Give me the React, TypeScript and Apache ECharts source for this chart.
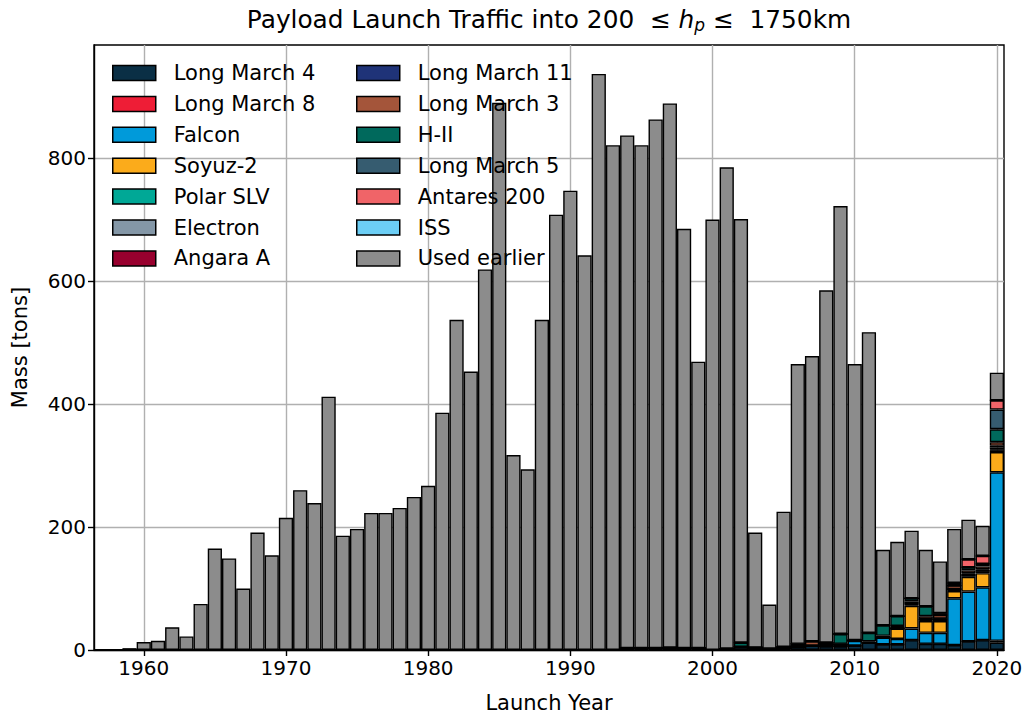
import React, { useEffect, useRef } from "react";
import * as echarts from "echarts";

const firstYear = 1957;
const lastYear = 2020;
const years: string[] = [];
for (let y = firstYear; y <= lastYear; y++) years.push(String(y));

// total stacked mass per year 1957..2020 (tons)
const totalMass = [
  0.2, 1, 3,
  13, 15, 37, 22, 75, 165, 149, 100, 191, 154,
  215, 260, 239, 412, 186, 197, 223, 223, 231, 249,
  267, 386, 537, 453, 619, 890, 317, 294, 537, 708,
  747, 642, 937, 821, 837, 821, 863, 889, 685, 469,
  700, 785, 701, 191, 74, 225, 465, 478, 585, 722,
  465, 517, 163, 176, 194, 163, 144, 197, 212, 202,
  451,
];

// per-launcher mass, years 1990..2020
const recentStart = 1990;
const longMarch4 = [0, 0, 0, 0, 3, 3, 3, 3, 3, 3, 0, 2, 5, 4, 2, 3, 5, 7, 6, 6, 7, 12, 9, 9, 16, 10, 10, 8, 14, 16, 12];
const longMarch8 = [0, 0, 0, 0, 0, 0, 0, 0, 0, 0, 0, 0, 0, 0, 0, 0, 0, 0, 0, 0, 0, 0, 0, 0, 0, 0, 0, 0, 0, 0, 3];
const falcon = [0, 0, 0, 0, 0, 0, 0, 0, 0, 0, 0, 0, 0, 0, 0, 0, 0, 0, 0, 0, 8, 0, 11, 9, 19, 18, 18, 76, 81, 86, 274];
const soyuz2 = [0, 0, 0, 0, 0, 0, 0, 0, 0, 0, 0, 0, 0, 0, 0, 0, 2, 0, 4, 3, 0, 0, 0, 17, 37, 19, 19, 12, 24, 23, 33];
const polarSLV = [0, 0, 0, 0, 0, 0, 0, 0, 0, 0, 0, 0, 0, 0, 0, 0, 0, 0, 0, 0, 0, 0, 0, 0, 2, 2, 3, 3, 3, 3, 3];
const electron = [0, 0, 0, 0, 0, 0, 0, 0, 0, 0, 0, 0, 0, 0, 0, 0, 0, 0, 0, 0, 0, 0, 0, 0, 0, 0, 0, 0, 0.5, 1, 1];
const angaraA = [0, 0, 0, 0, 0, 0, 0, 0, 0, 0, 0, 0, 0, 0, 0, 0, 0, 0, 0, 0, 0, 0, 0, 0, 2, 0, 0, 0, 0, 0, 3];
const longMarch11 = [0, 0, 0, 0, 0, 0, 0, 0, 0, 0, 0, 0, 0, 0, 0, 0, 0, 0, 0, 0, 0, 0, 0, 0, 0, 1, 1, 0, 2, 2, 3];
const longMarch3 = [0, 0, 0, 0, 0, 0, 0, 0, 0, 0, 0, 0, 0, 0, 0, 2, 3, 7, 2, 1, 1, 2, 3, 4, 3, 5, 6, 6, 5, 5, 6];
const h2 = [0, 0, 0, 0, 0, 0, 0, 1, 0, 0, 0, 0, 7, 0, 0, 0, 0, 0, 0, 16, 0, 14, 17, 16, 5, 16, 0, 0, 5, 4, 21];
const longMarch5 = [0, 0, 0, 0, 0, 0, 0, 0, 0, 0, 0, 0, 0, 0, 0, 0, 0, 0, 0, 0, 0, 0, 0, 0, 0, 0, 0, 0, 0, 0, 32];
const antares200 = [0, 0, 0, 0, 0, 0, 0, 0, 0, 0, 0, 0, 0, 0, 0, 0, 0, 0, 0, 0, 0, 0, 0, 0, 0, 0, 3, 4, 13, 13, 15];
const iss = [0, 0, 0, 0, 0, 0, 0, 0, 0, 0, 0, 0, 0, 0, 0, 0, 0, 0, 0, 0, 0, 0, 0, 0, 0, 0, 0, 0, 0, 0, 0];

const yTicks = [0, 200, 400, 600, 800];

const launcherNames = [
  "Long March 4", "Long March 8", "Falcon", "Soyuz-2", "Polar SLV", "Electron", "Angara A",
  "Long March 11", "Long March 3", "H-II", "Long March 5", "Antares 200", "ISS",
];
const launcherData = [
  longMarch4, longMarch8, falcon, soyuz2, polarSLV, electron, angaraA,
  longMarch11, longMarch3, h2, longMarch5, antares200, iss,
];
const launcherColors = [
  "#0a2f45", "#ee1d36", "#009ada", "#fbab1b", "#00a896", "#8497a7", "#98002e",
  "#1f3378", "#a4553a", "#00695c", "#365c70", "#f06468", "#6ccef5",
];
const usedEarlierName = "Used earlier";
const usedEarlierColor = "#8c8c8c";

const FONT = "DejaVu Sans";

function padFull(arr: number[]): number[] {
  const out: number[] = [];
  for (let y = firstYear; y <= lastYear; y++) {
    const i = y - recentStart;
    out.push(i >= 0 && i < arr.length ? arr[i] : 0);
  }
  return out;
}

export default function App() {
  const ref = useRef<HTMLDivElement>(null);
  useEffect(() => {
    if (!ref.current) return;
    const chart = echarts.init(ref.current, undefined, { renderer: "svg" });
    const full = launcherData.map(padFull);
    const usedEarlier = totalMass.map((t, k) => {
      let s = 0;
      for (const a of full) s += a[k];
      return Math.max(0, +(t - s).toFixed(2));
    });
    const decade = (_i: number, v: string) => Number(v) % 10 === 0;
    const barStyle = (color: string) => ({ color, borderColor: "#000", borderWidth: 1.4 });
    const series: any[] = launcherNames.map((name, i) => ({
      name,
      type: "bar",
      stack: "total",
      barCategoryGap: "0%",
      data: full[i],
      itemStyle: barStyle(launcherColors[i]),
      emphasis: { disabled: true },
    }));
    series.push({
      name: usedEarlierName,
      type: "bar",
      stack: "total",
      barCategoryGap: "0%",
      data: usedEarlier,
      itemStyle: barStyle(usedEarlierColor),
      emphasis: { disabled: true },
    });
    const allNames = [...launcherNames, usedEarlierName];
    const legendBase = {
      orient: "vertical",
      top: 62.5,
      padding: 0,
      itemWidth: 43,
      itemHeight: 15,
      itemGap: 9.9,
      icon: "rect",
      selectedMode: false,
      textStyle: { fontFamily: FONT, fontSize: 21, color: "#000", padding: [0, 0, 0, 13], lineHeight: 21 },
      itemStyle: { borderColor: "#000", borderWidth: 1.5 },
    };
    chart.setOption({
      animation: false,
      backgroundColor: "#fff",
      color: [...launcherColors, usedEarlierColor],
      title: {
        text: "Payload Launch Traffic into 200  ≤ {i|h}{s|p} ≤  1750km",
        left: 549,
        top: 5,
        padding: 0,
        textAlign: "center",
        textStyle: {
          fontFamily: FONT,
          fontSize: 24.8,
          fontWeight: "normal",
          color: "#000",
          rich: {
            i: { fontFamily: FONT, fontSize: 24.8, fontStyle: "italic", color: "#000" },
            s: { fontFamily: FONT, fontSize: 17, fontStyle: "italic", color: "#000", padding: [11, 0, 0, 0] },
          },
        },
      },
      legend: [
        { ...legendBase, left: 112, data: allNames.slice(0, 7) },
        { ...legendBase, left: 356, data: allNames.slice(7) },
      ],
      grid: {
        left: 94,
        right: 23,
        top: 45,
        bottom: 64,
        show: true,
        borderColor: "#000",
        borderWidth: 1.4,
        backgroundColor: "transparent",
        containLabel: false,
      },
      xAxis: {
        type: "category",
        data: years,
        boundaryGap: true,
        name: "Launch Year",
        nameLocation: "middle",
        nameGap: 42,
        nameTextStyle: { fontFamily: FONT, fontSize: 21, color: "#000" },
        axisLine: { show: true, lineStyle: { color: "#000", width: 1.4 } },
        axisTick: { show: true, alignWithLabel: true, interval: decade, length: 6, lineStyle: { color: "#000", width: 1.4 } },
        axisLabel: { interval: decade, fontFamily: FONT, fontSize: 20, color: "#000", margin: 8 },
        splitLine: { show: true, interval: decade, alignWithLabel: true, lineStyle: { color: "#b0b0b0", width: 1.4 } },
      },
      yAxis: {
        type: "value",
        min: 0,
        max: 984,
        interval: 200,
        name: "Mass [tons]",
        nameLocation: "middle",
        nameGap: 64,
        nameTextStyle: { fontFamily: FONT, fontSize: 21, color: "#000" },
        axisLine: { show: true, lineStyle: { color: "#000", width: 1.4 } },
        axisTick: { show: true, length: 6, lineStyle: { color: "#000", width: 1.4 }, customValues: yTicks },
        axisLabel: { fontFamily: FONT, fontSize: 20, color: "#000", margin: 8, customValues: yTicks },
        splitLine: { show: true, lineStyle: { color: "#b0b0b0", width: 1.4 } },
      },
      series,
    });
    return () => chart.dispose();
  }, []);
  return (
    <div
      ref={ref}
      style={{ position: "fixed", left: 0, top: 0, width: 1027, height: 718, background: "#fff" }}
    />
  );
}
